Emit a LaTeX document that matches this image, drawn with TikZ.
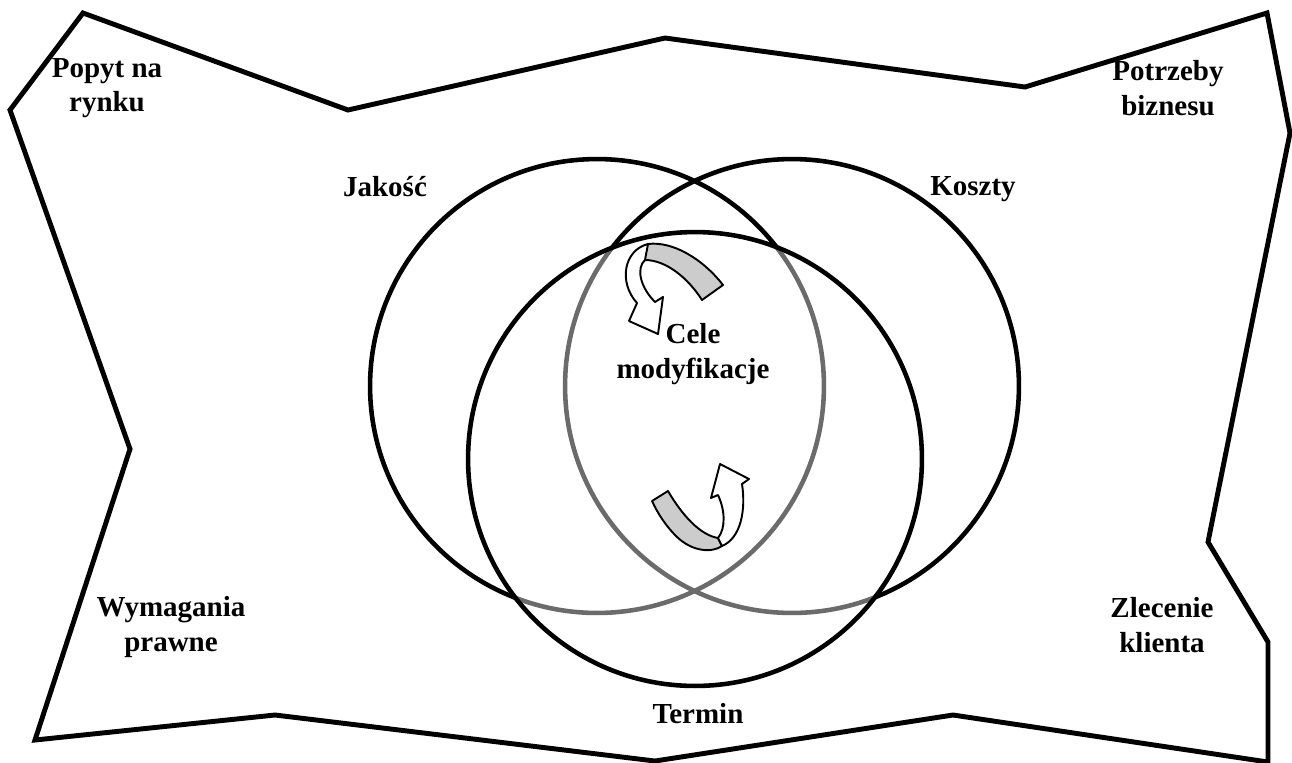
\documentclass[tikz,border=0pt]{standalone}
\usepackage{fontspec}
\setmainfont{Liberation Serif}
\usetikzlibrary{positioning}
\definecolor{band}{gray}{0.80}
\tikzset{
  lbl/.style={font=\fontsize{16.5}{19.5}\selectfont\bfseries, align=center,
              inner sep=0pt},
  ring/.style={draw=black, line width=2.6pt},
  ribbon/.style={draw=black, line width=1.1pt, line join=round},
}

\begin{document}
\begin{tikzpicture}[x=0.02cm, y=-0.02cm]
\def\rad{4.54cm}
\useasboundingbox (0,0) rectangle (1292,762);

% outer frame, a crumpled sheet
\draw[line width=2.8pt, line join=miter]
  (83,13) -- (348,110) -- (665,38) -- (1025,87) -- (1267,13)
  -- (1290,133) -- (1208,542) -- (1268,642) -- (1268,762)
  -- (953,715) -- (655,761) -- (275,715) -- (35,740)
  -- (130,449) -- (10,110) -- cycle;

% the three circles; what lies under the lower one shows grey
\coordinate (jc) at (597,386);
\coordinate (kc) at (792,386);
\coordinate (tc) at (695,459);
\draw[ring] (jc) circle[radius=\rad];
\draw[ring] (kc) circle[radius=\rad];
\fill[white, fill opacity=0.42] (tc) circle[radius=\rad];
\draw[ring] (tc) circle[radius=\rad];

% upper turning arrow
\filldraw[ribbon, fill=band] (702,300) -- (723,285)
  .. controls (702,258) and (672,241) .. (648,244)
  .. controls (643,249) and (643,255) .. (645,260)
  .. controls (666,260) and (688,278) .. (702,300) -- cycle;
\filldraw[ribbon, fill=white] (648,244)
  .. controls (624,250) and (618,282) .. (637,303)
  -- (629,321) -- (658,334) -- (663,297) -- (655,302)
  .. controls (640,287) and (636,268) .. (645,260) -- cycle;

% lower turning arrow
\filldraw[ribbon, fill=band] (652,501) -- (668,491)
  .. controls (682,515) and (700,535) .. (718,538)
  -- (722,546)
  .. controls (712,553) and (692,552) .. (676,536)
  .. controls (666,526) and (658,514) .. (652,501) -- cycle;
\filldraw[ribbon, fill=white] (722,546)
  .. controls (741,538) and (746,510) .. (742,484)
  -- (749,479) -- (720,464) -- (711,498) -- (718,495)
  .. controls (725,510) and (726,528) .. (718,538) -- cycle;

% texts
\node[lbl] (popyt)     at (107,88)  {Popyt na\\rynku};
\node[lbl] (potrzeby)  at (1168,88) {Potrzeby\\biznesu};
\node[lbl] (jakosc)    at (385,187) {Jakość};
\node[lbl] (koszty)    at (973,189) {Koszty};
\node[lbl] (cele)      at (693,354) {Cele\\modyfikacje};
\node[lbl] (wymagania) at (171,627) {Wymagania\\prawne};
\node[lbl] (zlecenie)  at (1162,625) {Zlecenie\\klienta};
\node[lbl] (termin)    at (698,714) {Termin};
\end{tikzpicture}
\end{document}
